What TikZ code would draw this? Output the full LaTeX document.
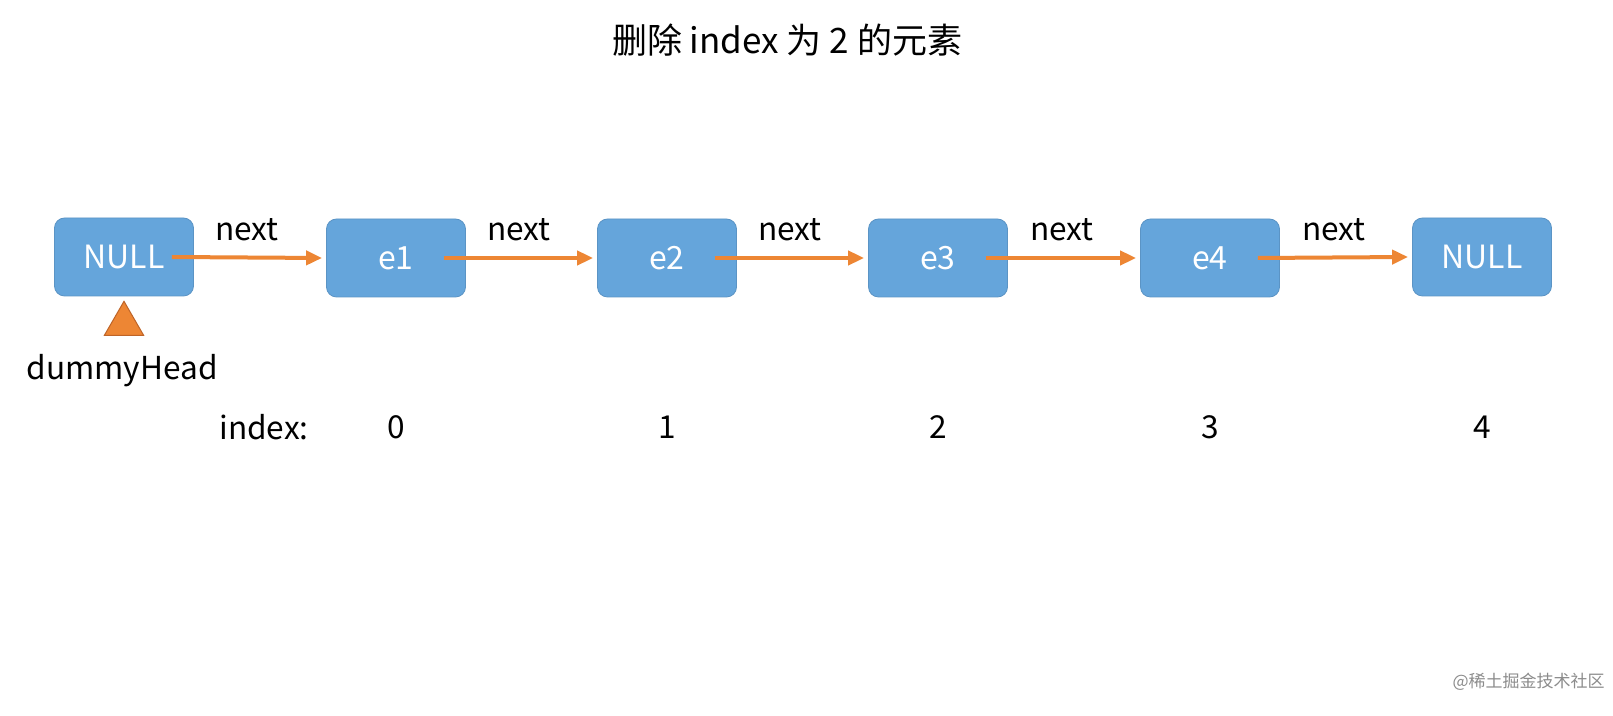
\documentclass[tikz,border=0pt]{standalone}
\usepackage{fontspec}
\setmainfont{Noto Sans CJK SC}
\usetikzlibrary{arrows.meta,shapes.geometric}
\definecolor{boxblue}{RGB}{101,165,219}
\definecolor{arrorange}{RGB}{237,134,52}
\definecolor{triedge}{RGB}{190,100,40}
\begin{document}
\begin{tikzpicture}[x=0.5pt,y=-0.5pt,
  listbox/.style={fill=boxblue,draw=boxblue!90!black,line width=0.4pt,rounded corners=5pt,minimum width=69.5pt,minimum height=39pt,inner sep=0pt,text=white,font=\fontsize{16}{19}\selectfont},
  nextarrow/.style={draw=arrorange,line width=2pt,-{Triangle[length=8pt,width=7pt]}},
  lbl/.style={font=\fontsize{15.8}{19}\selectfont,inner sep=0pt}]
\useasboundingbox[fill=white] (0,0) rectangle (1613,716);
\node[lbl,font=\fontsize{17.5}{21}\selectfont] (title) at (787,40) {删除 index 为 2 的元素};
\node[listbox] (n0) at (124,257) {NULL};
\node[listbox] (n1) at (396,258) {e1};
\node[listbox] (n2) at (667,258) {e2};
\node[listbox] (n3) at (938,258) {e3};
\node[listbox] (n4) at (1210,258) {e4};
\node[listbox] (n5) at (1482,257) {NULL};
\foreach \a/\b/\lx in {n0/n1/247,n1/n2/519,n2/n3/790,n3/n4/1062,n4/n5/1334}{
  \draw[nextarrow] ([xshift=-11pt]\a.east) -- ([xshift=-2pt]\b.west);
  \node[lbl] at (\lx,230) {next};
}
\node[isosceles triangle,isosceles triangle apex angle=60,shape border rotate=90,fill=arrorange,draw=triedge,line width=0.5pt,minimum height=17pt,inner sep=0pt] (tri) at (124,324) {};
\node[lbl] (dh) at (122,371) {dummyHead};
\node[lbl] (idx) at (264,427) {index:};
\node[lbl] (i0) at (396,427) {0};
\node[lbl] (i1) at (667,427) {1};
\node[lbl] (i2) at (938,427) {2};
\node[lbl] (i3) at (1210,427) {3};
\node[lbl] (i4) at (1482,427) {4};
\node[lbl,font=\fontsize{8.5}{10}\selectfont,text=black!45,anchor=east] (wm) at (1605,682) {@稀土掘金技术社区};
\end{tikzpicture}
\end{document}
